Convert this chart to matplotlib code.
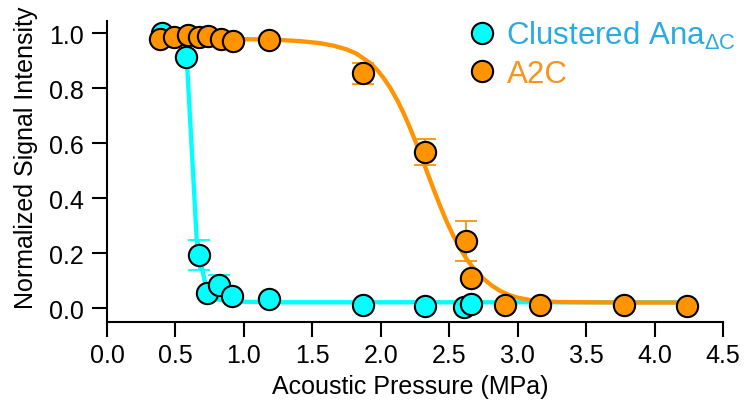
import matplotlib
matplotlib.use("Agg")
import matplotlib.pyplot as plt
from matplotlib.lines import Line2D

plt.rcParams["font.family"] = ["Liberation Sans", "DejaVu Sans"]
plt.rcParams["mathtext.fontset"] = "custom"
plt.rcParams["mathtext.rm"] = "Liberation Sans"

# clustered Ana (cyan) data points
x_ana = [0.40, 0.58, 0.67, 0.73, 0.82, 0.91, 1.18, 1.87, 2.32, 2.61, 2.66]
y_ana = [1.00, 0.915, 0.193, 0.055, 0.085, 0.045, 0.033, 0.011, 0.006, 0.005, 0.014]
err_ana = [0, 0, 0.056, 0, 0.036, 0, 0, 0, 0, 0, 0]

# A2C (orange) data points
x_a2c = [0.39, 0.49, 0.59, 0.67, 0.74, 0.83, 0.92, 1.18, 1.87, 2.32, 2.62, 2.66, 2.91, 3.16, 3.78, 4.24]
y_a2c = [0.98, 0.986, 0.993, 0.986, 0.99, 0.978, 0.972, 0.975, 0.855, 0.568, 0.245, 0.109, 0.012, 0.010, 0.011, 0.008]
err_a2c = [0, 0, 0, 0, 0, 0, 0, 0, 0.038, 0.048, 0.072, 0, 0, 0, 0, 0]

# fitted curves
fit_x_ana = [0.40, 0.50, 0.55, 0.57, 0.582, 0.655, 0.68, 0.70, 0.72, 0.75, 0.80, 0.90, 1.20, 4.24]
fit_y_ana = [1.0, 0.998, 0.985, 0.96, 0.912, 0.251, 0.17, 0.13, 0.085, 0.05, 0.032, 0.024, 0.021, 0.021]

fit_x_a2c = [0.39, 0.80, 1.20, 1.41, 1.55, 1.65, 1.75, 1.82, 1.92, 1.97, 2.02, 2.07, 2.12, 2.17, 2.21,
             2.27, 2.34, 2.38, 2.43, 2.48, 2.53, 2.58, 2.63, 2.69, 2.75, 2.81, 2.87, 2.93, 2.99, 3.08,
             3.16, 3.30, 3.50, 3.80, 4.24]
fit_y_a2c = [0.98, 0.98, 0.978, 0.972, 0.965, 0.956, 0.942, 0.927, 0.893, 0.869, 0.838, 0.801, 0.757,
             0.706, 0.660, 0.586, 0.493, 0.440, 0.376, 0.316, 0.263, 0.216, 0.176, 0.137, 0.107, 0.082,
             0.063, 0.049, 0.039, 0.030, 0.025, 0.022, 0.021, 0.02, 0.02]

labels = [r"Clustered Ana$_{\mathrm{\Delta C}}$", "A2C"]
x_ticks = [0.0, 0.5, 1.0, 1.5, 2.0, 2.5, 3.0, 3.5, 4.0, 4.5]
y_ticks = [0.0, 0.2, 0.4, 0.6, 0.8, 1.0]

cyan = "#00FFFF"
orange = "#FF9300"

fig = plt.figure(figsize=(7.49, 4.06), dpi=100)
ax = fig.add_axes([0.1429, 0.205, 0.8224, 0.7406])

ax.plot(fit_x_ana, fit_y_ana, color=cyan, lw=3.1, zorder=2, solid_capstyle="butt")
ax.plot(fit_x_a2c, fit_y_a2c, color=orange, lw=3.1, zorder=3, solid_capstyle="butt")

ax.errorbar(x_ana, y_ana, yerr=err_ana, fmt="none", ecolor=cyan, elinewidth=1.3,
            capsize=8, capthick=1.3, zorder=4)
ax.errorbar(x_a2c, y_a2c, yerr=err_a2c, fmt="none", ecolor=orange, elinewidth=1.3,
            capsize=8, capthick=1.3, zorder=4)

ax.plot(x_ana, y_ana, "o", ms=15.3, mfc=cyan, mec="black", mew=1.5, zorder=5, clip_on=False)
ax.plot(x_a2c, y_a2c, "o", ms=15.3, mfc=orange, mec="black", mew=1.5, zorder=6, clip_on=False)

ax.set_xlim(0, 4.5)
ax.set_ylim(-0.05, 1.045)
ax.set_xticks(x_ticks)
ax.set_yticks(y_ticks)
ax.set_xticklabels([f"{t:.1f}" for t in x_ticks])
ax.set_yticklabels([f"{t:.1f}" for t in y_ticks])
ax.tick_params(direction="out", length=11, width=1.5, labelsize=18)
ax.tick_params(axis="y", pad=6)
ax.tick_params(axis="x", pad=4)
for side in ["top", "right"]:
    ax.spines[side].set_visible(False)
for side in ["left", "bottom"]:
    ax.spines[side].set_linewidth(1.5)

ax.set_xlabel("Acoustic Pressure (MPa)", fontsize=18)
ax.set_ylabel("Normalized Signal Intensity", fontsize=18)
ax.xaxis.set_label_coords(0.492, -0.175)
ax.yaxis.set_label_coords(-0.112, 0.55)

handles = [
    Line2D([], [], ls="none", marker="o", ms=15.3, mfc=cyan, mec="black", mew=1.5),
    Line2D([], [], ls="none", marker="o", ms=15.3, mfc=orange, mec="black", mew=1.5),
]
leg = fig.legend(handles, labels, loc="upper left", bbox_to_anchor=(0.627, 0.952),
                 frameon=False, fontsize=22.5, handlelength=0.8, handletextpad=0.38,
                 labelspacing=0.27, borderpad=0, borderaxespad=0,
                 labelcolor=["#29ABE2", "#F7941D"])

fig.savefig("out.png", dpi=100)
